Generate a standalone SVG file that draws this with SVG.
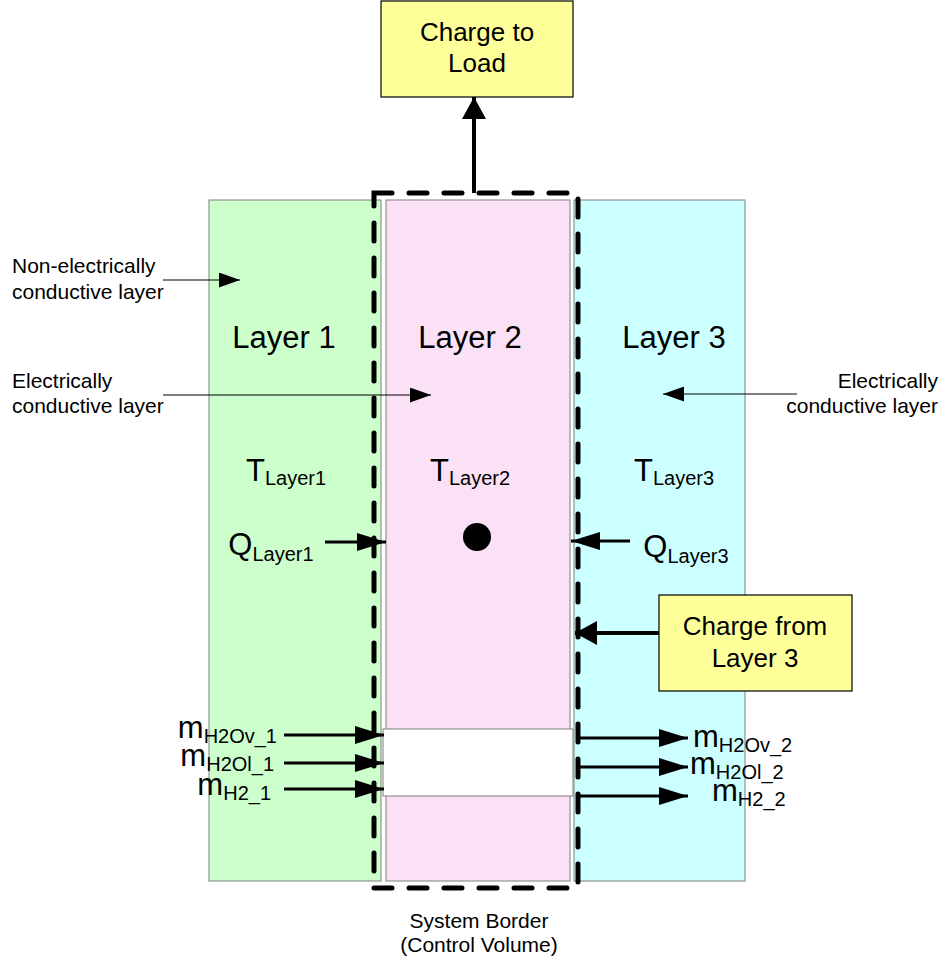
<svg xmlns="http://www.w3.org/2000/svg" width="945" height="966" viewBox="0 0 945 966">
  <style>
    text { font-family: "Liberation Sans", Arial, sans-serif; fill: #000; }
    .note { font-size: 21px; }
    .big { font-size: 31px; }
    .box { font-size: 26px; }
    .sub { font-size: 20px; }
    .layer { stroke: #7f7f7f; stroke-width: 1; }
    .thin { stroke: #000; stroke-width: 1; fill: none; }
    .thick { stroke: #000; stroke-width: 4; fill: none; }
    .mid { stroke: #000; stroke-width: 3; fill: none; }
  </style>
  <defs>
    <marker id="arrSmall" markerWidth="21" markerHeight="15" refX="21" refY="7.5" orient="auto" markerUnits="userSpaceOnUse">
      <path d="M0,0 L21,7.5 L0,15 z" fill="#000"/>
    </marker>
    <marker id="arrBig" markerWidth="24" markerHeight="24" refX="22" refY="12" orient="auto" markerUnits="userSpaceOnUse">
      <path d="M0,0 L22,12 L0,24 z" fill="#000"/>
    </marker>
    <marker id="arrMid" markerWidth="30" markerHeight="18" refX="29" refY="9" orient="auto" markerUnits="userSpaceOnUse">
      <path d="M0,0 L29,9 L0,18 z" fill="#000"/>
    </marker>
  </defs>

  <!-- layers -->
  <g id="layer1">
    <rect class="layer" x="209" y="200" width="172" height="681" fill="#CCFFCC"/>
    <text class="big" x="284" y="348" text-anchor="middle">Layer 1</text>
    <text x="286" y="481" text-anchor="middle"><tspan class="big">T</tspan><tspan class="sub" dy="4">Layer1</tspan></text>
    <text x="271" y="555" text-anchor="middle"><tspan class="big">Q</tspan><tspan class="sub" dy="6">Layer1</tspan></text>
  </g>
  <g id="layer2">
    <rect class="layer" x="386" y="200" width="184" height="681" fill="#FAE1F6"/>
    <text class="big" x="470" y="348" text-anchor="middle">Layer 2</text>
    <text x="470" y="481" text-anchor="middle"><tspan class="big">T</tspan><tspan class="sub" dy="4">Layer2</tspan></text>
    <circle cx="477" cy="537" r="14" fill="#000"/>
  </g>
  <g id="layer3">
    <rect class="layer" x="574" y="200" width="171" height="681" fill="#CCFFFF"/>
    <text class="big" x="674" y="348" text-anchor="middle">Layer 3</text>
    <text x="674" y="481" text-anchor="middle"><tspan class="big">T</tspan><tspan class="sub" dy="4">Layer3</tspan></text>
    <text x="686" y="557" text-anchor="middle"><tspan class="big">Q</tspan><tspan class="sub" dy="6">Layer3</tspan></text>
  </g>
  <g id="flow-channel">
    <rect x="383" y="729" width="190" height="67" fill="#FFFFFF" stroke="#7f7f7f" stroke-width="1"/>
  </g>

  <!-- control volume border -->
  <g id="system-border">
    <rect x="374" y="193" width="204" height="695" fill="none" stroke="#000" stroke-width="5" stroke-dasharray="18,17" stroke-linecap="round"/>
    <text class="note" x="479" y="928" text-anchor="middle">System Border</text>
    <text class="note" x="479" y="952" text-anchor="middle">(Control Volume)</text>
  </g>

  <g id="charge-to-load">
    <rect x="381" y="1" width="192" height="96" fill="#FFFF99" stroke="#000" stroke-width="1.2"/>
    <text class="box" x="477" y="41" text-anchor="middle">Charge to</text>
    <text class="box" x="477" y="72" text-anchor="middle">Load</text>
  </g>
  <g id="charge-from-layer3">
    <rect x="659" y="595" width="193" height="96" fill="#FFFF99" stroke="#000" stroke-width="1.2"/>
    <text class="box" x="755" y="635" text-anchor="middle">Charge from</text>
    <text class="box" x="755" y="667" text-anchor="middle">Layer 3</text>
  </g>

  <!-- annotations -->
  <g id="notes">
    <text class="note" x="12" y="273">Non-electrically</text>
    <text class="note" x="12" y="299">conductive layer</text>
    <text class="note" x="12" y="388">Electrically</text>
    <text class="note" x="12" y="413">conductive layer</text>
    <text class="note" x="938" y="388" text-anchor="end">Electrically</text>
    <text class="note" x="938" y="413" text-anchor="end">conductive layer</text>
  </g>

  <!-- mass flow labels -->
  <g id="mass-in">
    <text x="277" y="738" text-anchor="end"><tspan class="big">m</tspan><tspan class="sub" dy="5">H2Ov_1</tspan></text>
    <text x="274" y="766" text-anchor="end"><tspan class="big">m</tspan><tspan class="sub" dy="5">H2Ol_1</tspan></text>
    <text x="271" y="795" text-anchor="end"><tspan class="big">m</tspan><tspan class="sub" dy="5">H2_1</tspan></text>
  </g>
  <g id="mass-out">
    <text x="693" y="747"><tspan class="big">m</tspan><tspan class="sub" dy="5">H2Ov_2</tspan></text>
    <text x="690" y="774"><tspan class="big">m</tspan><tspan class="sub" dy="5">H2Ol_2</tspan></text>
    <text x="712" y="801"><tspan class="big">m</tspan><tspan class="sub" dy="5">H2_2</tspan></text>
  </g>

  <!-- connectors -->
  <g id="connectors">
    <line class="thick" x1="474" y1="193" x2="474" y2="97" marker-end="url(#arrBig)"/>
    <line class="thick" x1="659" y1="633" x2="575" y2="633" marker-end="url(#arrBig)"/>
    <line class="mid" x1="325" y1="542" x2="386" y2="542" marker-end="url(#arrMid)"/>
    <line class="mid" x1="630" y1="541" x2="571" y2="541" marker-end="url(#arrMid)"/>
    <line class="mid" x1="284" y1="735" x2="384" y2="735" marker-end="url(#arrMid)"/>
    <line class="mid" x1="284" y1="763" x2="384" y2="763" marker-end="url(#arrMid)"/>
    <line class="mid" x1="284" y1="789" x2="384" y2="789" marker-end="url(#arrMid)"/>
    <line class="mid" x1="578" y1="738" x2="688" y2="738" marker-end="url(#arrMid)"/>
    <line class="mid" x1="578" y1="767" x2="688" y2="767" marker-end="url(#arrMid)"/>
    <line class="mid" x1="578" y1="796" x2="688" y2="796" marker-end="url(#arrMid)"/>
    <line class="thin" x1="163" y1="280" x2="240" y2="280" marker-end="url(#arrSmall)"/>
    <line class="thin" x1="163" y1="395" x2="431" y2="395" marker-end="url(#arrSmall)"/>
    <line class="thin" x1="797" y1="394" x2="663" y2="394" marker-end="url(#arrSmall)"/>
  </g>
</svg>
